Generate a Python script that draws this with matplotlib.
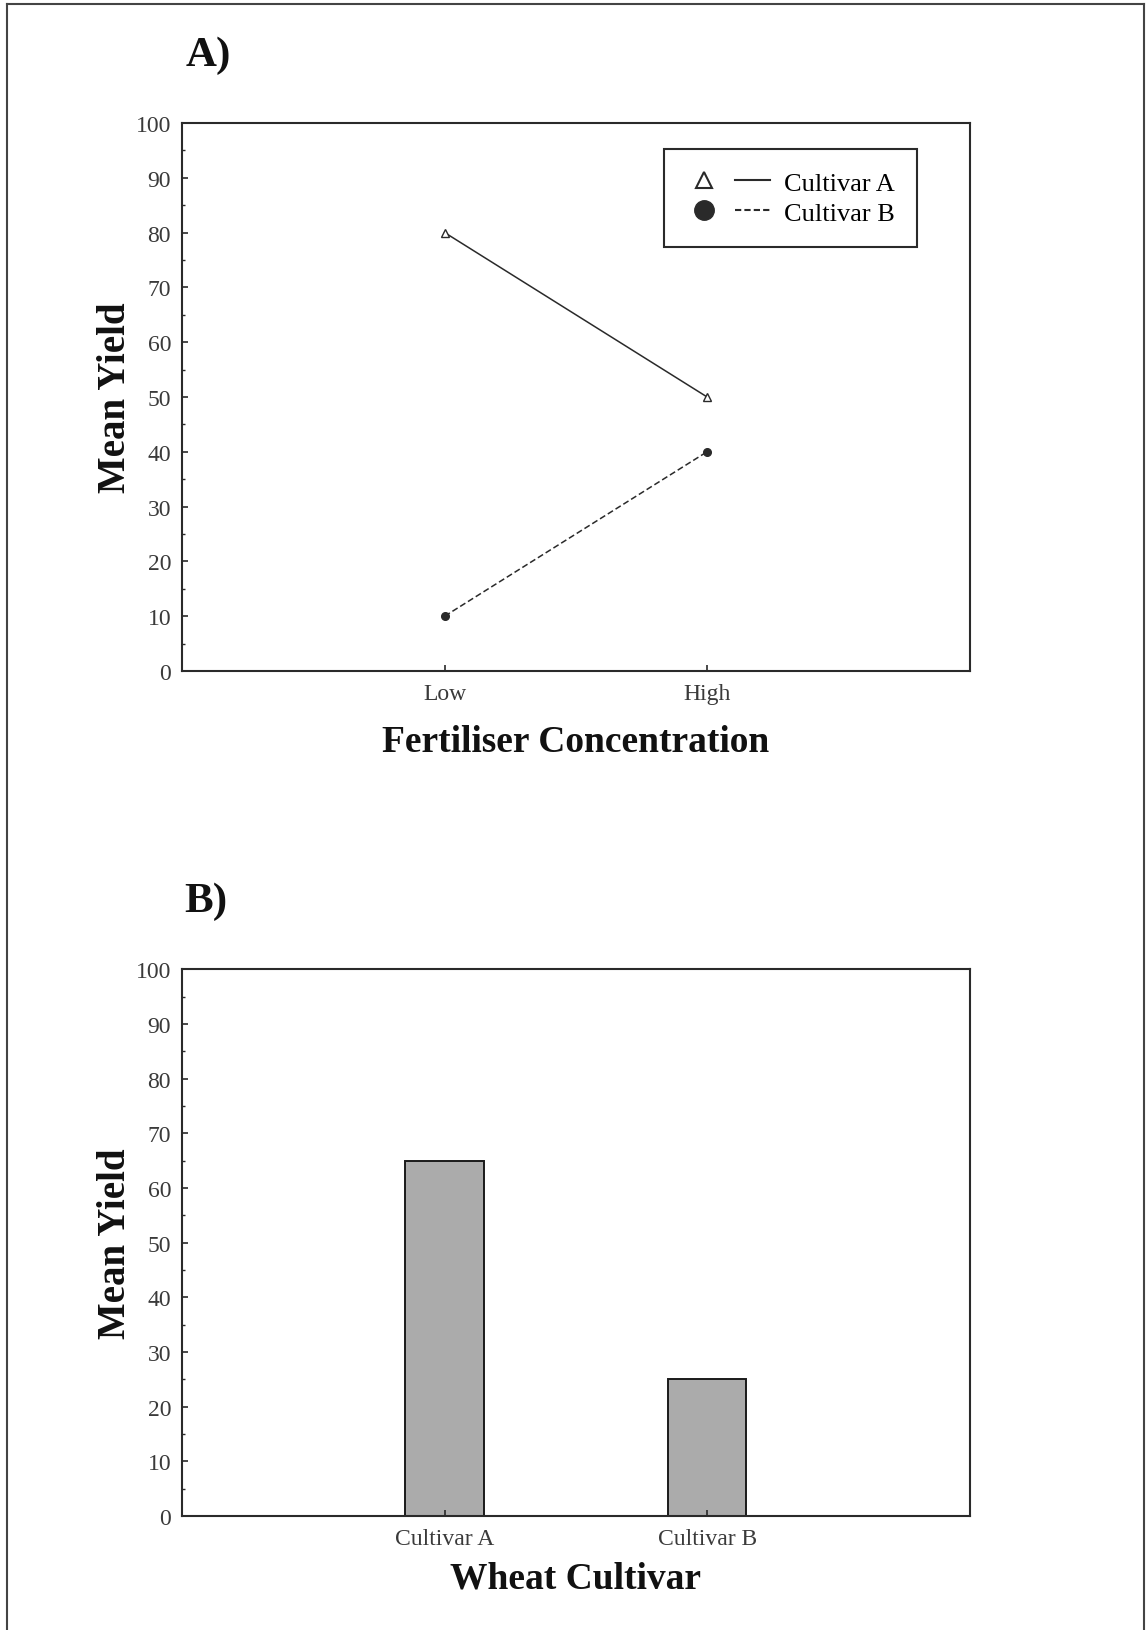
import matplotlib.pyplot as plt
import numpy as np
from matplotlib.lines import Line2D
from matplotlib.legend_handler import HandlerTuple
from matplotlib.ticker import MultipleLocator

# interaction plot data
levels = ['Low', 'High']
yield_a = [80, 50]
yield_b = [10, 40]

# main effect of cultivar
cultivars = ['Cultivar A', 'Cultivar B']
mean_yield = [65, 25]

plt.rcParams['font.family'] = ['Liberation Serif', 'DejaVu Serif']
ink = '#2a2a2a'


def style_axes(ax):
    ax.set_ylim(0, 100)
    ax.set_xlim(0, 3)
    ax.yaxis.set_major_locator(MultipleLocator(10))
    ax.yaxis.set_minor_locator(MultipleLocator(5))
    ax.tick_params(axis='both', which='major', direction='in', length=4,
                   width=1.2, color=ink, labelcolor='#3a3a3a')
    ax.tick_params(axis='y', which='major', labelsize=17, pad=8)
    ax.tick_params(axis='x', which='major', labelsize=17, pad=9)
    ax.tick_params(axis='y', which='minor', direction='in', length=2,
                   width=1, color=ink)
    for s in ax.spines.values():
        s.set_linewidth(1.5)
        s.set_color(ink)
    ax.set_ylabel('Mean Yield', fontsize=28, fontweight='bold', labelpad=1,
                  color='#111111')


fig = plt.figure(figsize=(11.46, 16.31), dpi=100)

# A) line plot
ax1 = fig.add_axes([0.159, 0.588, 0.687, 0.336])
x = np.arange(1, len(levels) + 1)
la, = ax1.plot(x, yield_a, '-', color=ink, lw=1.1, marker='^',
               markersize=6, markerfacecolor='white', markeredgecolor=ink)
lb, = ax1.plot(x, yield_b, '--', color=ink, lw=1.1, dashes=(4, 2),
               marker='o', markersize=5.5, markerfacecolor=ink,
               markeredgecolor=ink)
ax1.set_xticks(x)
ax1.set_xticklabels(levels)
style_axes(ax1)
ax1.set_xlabel('Fertiliser Concentration', fontsize=27, fontweight='bold',
               labelpad=14, color='#111111')

mk_a = Line2D([], [], ls='none', marker='^', markersize=12,
              markerfacecolor='white', markeredgecolor=ink, mew=1.5)
ln_a = Line2D([], [], ls='-', color=ink, lw=1.5)
mk_b = Line2D([], [], ls='none', marker='o', markersize=14,
              markerfacecolor=ink, markeredgecolor=ink)
ln_b = Line2D([], [], ls='--', color=ink, lw=1.5, dashes=(3, 1.5))
leg = ax1.legend([(mk_a, ln_a), (mk_b, ln_b)], ['Cultivar A', 'Cultivar B'],
                 handler_map={tuple: HandlerTuple(ndivide=None, pad=0.5)},
                 loc='upper right', bbox_to_anchor=(0.933, 0.953),
                 fontsize=19, handlelength=3.2, handletextpad=0.5,
                 labelspacing=0.25, borderpad=0.85, borderaxespad=0,
                 fancybox=False, framealpha=1, edgecolor=ink)
leg.get_frame().set_linewidth(1.5)

# B) bar chart
ax2 = fig.add_axes([0.159, 0.070, 0.687, 0.335])
xb = np.arange(1, len(cultivars) + 1)
ax2.bar(xb, mean_yield, width=0.3, color='#ababab', edgecolor='#1a1a1a',
        linewidth=1.4)
ax2.set_xticks(xb)
ax2.set_xticklabels(cultivars)
style_axes(ax2)
ax2.set_xlabel('Wheat Cultivar', fontsize=27, fontweight='bold',
               labelpad=8, color='#111111')

fig.text(0.182, 0.966, 'A)', fontsize=31, fontweight='bold', ha='center',
         va='center', color='#111111')
fig.text(0.180, 0.447, 'B)', fontsize=31, fontweight='bold', ha='center',
         va='center', color='#111111')

# page frame
for xs, ys in [([0.006, 0.006], [0, 0.997]),
               ([0.006, 0.998], [0.997, 0.997]),
               ([0.998, 0.998], [0, 0.997])]:
    fig.add_artist(Line2D(xs, ys, transform=fig.transFigure, color='#444444',
                          lw=1.5))

fig.savefig('out.png', dpi=100, facecolor='white')
